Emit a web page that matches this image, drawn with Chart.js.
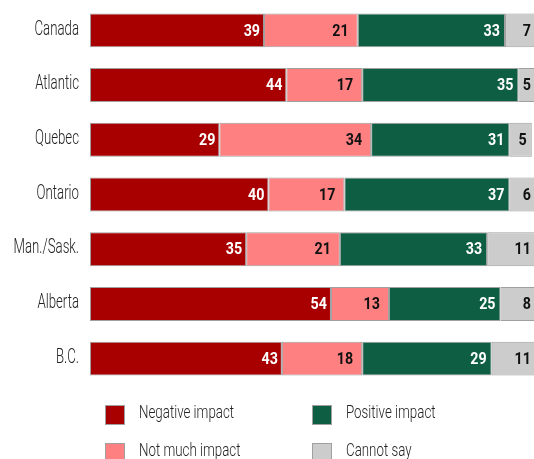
<!DOCTYPE html>
<html>
<head>
<meta charset="utf-8">
<script src="https://cdn.jsdelivr.net/npm/chart.js@4/dist/chart.umd.min.js"></script>
<style>
  html, body { margin: 0; padding: 0; background: #fff; }
  #wrap { width: 534px; height: 459px; position: relative; }
</style>
</head>
<body>
<div id="wrap"><canvas id="c" width="534" height="459"></canvas></div>
<script>
const categories = ["Canada", "Atlantic", "Quebec", "Ontario", "Man./Sask.", "Alberta", "B.C."];
const negativeImpact = [39, 44, 29, 40, 35, 54, 43];
const notMuchImpact  = [21, 17, 34, 17, 21, 13, 18];
const positiveImpact = [33, 35, 31, 37, 33, 25, 29];
const cannotSay      = [7, 5, 5, 6, 11, 8, 11];
const seriesLabels = ["Negative impact", "Not much impact", "Positive impact", "Cannot say"];

const FONT = 'Roboto, "Liberation Sans", sans-serif';
const colors = ["#A80000", "#FF8080", "#0E5E44", "#CCCCCC"];
const labelColors = ["#ffffff", "#111111", "#ffffff", "#111111"];
const labelPad = [4, 9, 5, 5];

function drawCondensed(ctx, text, x, y, sx) {
  ctx.save();
  ctx.translate(x, y);
  ctx.scale(sx, 1);
  ctx.fillText(text, 0, 0);
  ctx.restore();
}

const valueLabels = {
  id: 'valueLabels',
  afterDatasetsDraw(chart) {
    const ctx = chart.ctx;
    ctx.save();
    ctx.font = 'bold 17px ' + FONT;
    ctx.textAlign = 'right';
    ctx.textBaseline = 'middle';
    chart.data.datasets.forEach((ds, di) => {
      const meta = chart.getDatasetMeta(di);
      meta.data.forEach((bar, i) => {
        ctx.fillStyle = labelColors[di];
        const xr = Math.min(bar.x, 536);
        drawCondensed(ctx, String(ds.data[i]), xr - labelPad[di], bar.y + 1, 0.84);
      });
    });
    ctx.restore();
  }
};

const categoryLabels = {
  id: 'categoryLabels',
  afterDraw(chart) {
    const ctx = chart.ctx;
    const ys = chart.scales.y;
    ctx.save();
    ctx.font = '300 21px ' + FONT;
    ctx.textAlign = 'right';
    ctx.textBaseline = 'middle';
    ctx.fillStyle = '#222222';
    chart.data.labels.forEach((lab, i) => {
      drawCondensed(ctx, lab, ys.right - 11, ys.getPixelForTick(i) - 1, 0.63);
    });
    ctx.restore();
  }
};

const gridLegend = {
  id: 'gridLegend',
  afterDraw(chart) {
    const ctx = chart.ctx;
    ctx.save();
    ctx.font = '300 18px ' + FONT;
    ctx.textAlign = 'left';
    ctx.textBaseline = 'middle';
    const colX = [105, 312];
    const rowY = [405, 443];
    chart.data.datasets.forEach((ds, di) => {
      const col = Math.floor(di / 2), row = di % 2;
      const x = colX[col], y = rowY[row];
      ctx.fillStyle = ds.backgroundColor;
      ctx.fillRect(x, y, 20, 20);
      ctx.strokeStyle = '#a0a0a0';
      ctx.lineWidth = 1;
      ctx.strokeRect(x + 0.5, y + 0.5, 19, 19);
      ctx.fillStyle = '#222222';
      drawCondensed(ctx, ds.label, x + 34, y + 8, 0.74);
    });
    ctx.restore();
  }
};

const seriesData = [negativeImpact, notMuchImpact, positiveImpact, cannotSay];

new Chart(document.getElementById('c'), {
  type: 'bar',
  data: {
    labels: categories,
    datasets: seriesData.map((d, i) => ({
      label: seriesLabels[i],
      data: d,
      backgroundColor: colors[i],
      borderColor: '#a0a0a0',
      borderWidth: 1,
      borderSkipped: false,
      barPercentage: 0.62,
      categoryPercentage: 1.0
    }))
  },
  options: {
    indexAxis: 'y',
    responsive: false,
    animation: false,
    layout: { padding: { top: 3, bottom: 73, left: 0, right: 0 } },
    plugins: {
      legend: { display: false },
      tooltip: { enabled: false }
    },
    scales: {
      x: {
        stacked: true,
        min: 0,
        max: 99.5,
        display: false
      },
      y: {
        stacked: true,
        grid: { display: false, drawTicks: false },
        border: { display: false },
        ticks: { display: false },
        afterFit(scale) {
          scale.width = 90;
          scale.paddingTop = 0;
          scale.paddingBottom = 0;
        }
      }
    }
  },
  plugins: [valueLabels, categoryLabels, gridLegend]
});
</script>
</body>
</html>
